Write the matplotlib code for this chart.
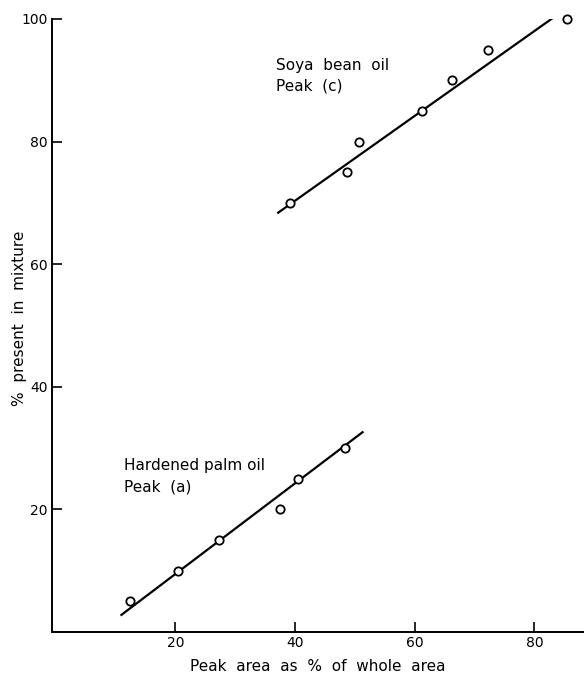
import matplotlib.pyplot as plt

# Soya bean oil, peak (c)
soya_x = [39.2, 48.7, 50.7, 61.3, 66.2, 72.3, 85.5]
soya_y = [70, 75, 80, 85, 90, 95, 100]
soya_fit_x = [37.2, 83.3]
soya_fit_y = [68.4, 100.3]

# Hardened palm oil, peak (a)
palm_x = [12.5, 20.5, 27.3, 37.5, 40.5, 48.3]
palm_y = [5, 10, 15, 20, 25, 30]
palm_fit_x = [11.0, 51.3]
palm_fit_y = [2.8, 32.6]

x_ticks = [20, 40, 60, 80]
y_ticks = [20, 40, 60, 80, 100]

fig = plt.figure(figsize=(5.84, 6.76), dpi=100)
ax = fig.add_axes([0.089, 0.065, 0.911, 0.907])

ax.plot(soya_fit_x, soya_fit_y, color='black', lw=1.6)
ax.plot(palm_fit_x, palm_fit_y, color='black', lw=1.6)
ax.plot(soya_x, soya_y, 'o', mfc='white', mec='black', ms=6, mew=1.3, clip_on=False)
ax.plot(palm_x, palm_y, 'o', mfc='white', mec='black', ms=6, mew=1.3, clip_on=False)

ax.text(36.9, 90.7, 'Soya  bean  oil\nPeak  (c)', fontsize=11, linespacing=1.5, va='center')
ax.text(11.4, 25.4, 'Hardened palm oil\nPeak  (a)', fontsize=11, linespacing=1.5, va='center')

ax.set_xlim(-0.6, 88.3)
ax.set_ylim(0, 100)
ax.set_xticks(x_ticks)
ax.set_yticks(y_ticks)
ax.tick_params(direction='in', length=7, width=1.2, labelsize=10, pad=3)
for s in ['top', 'right']:
    ax.spines[s].set_visible(False)
for s in ['left', 'bottom']:
    ax.spines[s].set_linewidth(1.4)

ax.set_xlabel('Peak  area  as  %  of  whole  area', fontsize=11, labelpad=6)
ax.set_ylabel('%  present  in  mixture', fontsize=11)
ax.yaxis.set_label_coords(-0.047, 0.512)

plt.savefig('out.png', dpi=100)
